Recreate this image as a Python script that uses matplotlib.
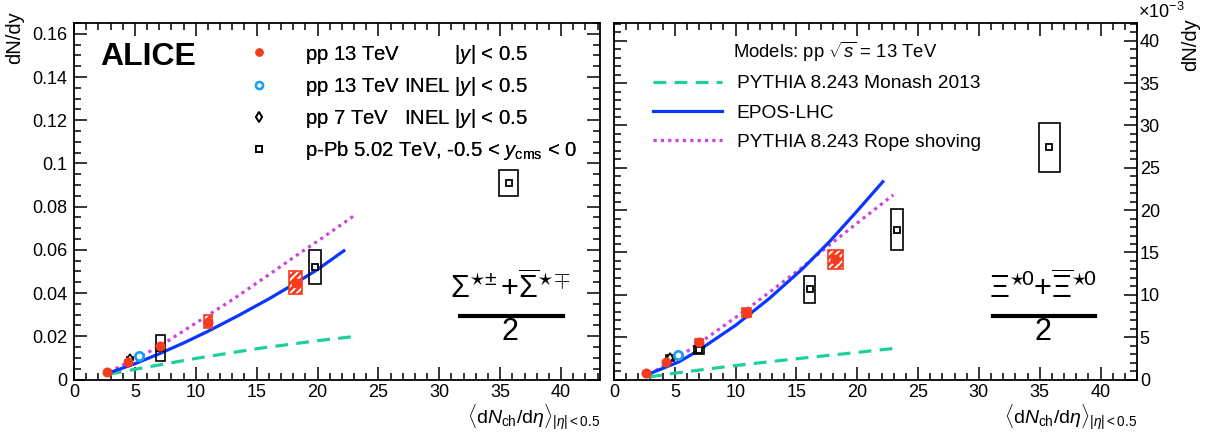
import numpy as np
import matplotlib
matplotlib.use("Agg")
import matplotlib.pyplot as plt
from matplotlib.lines import Line2D
from matplotlib.patches import Rectangle
from matplotlib.ticker import MultipleLocator, FuncFormatter

plt.rcParams['font.family'] = ['Liberation Sans', 'DejaVu Sans']
plt.rcParams['mathtext.fontset'] = 'custom'
plt.rcParams['mathtext.rm'] = 'Liberation Sans'
plt.rcParams['mathtext.it'] = 'Liberation Sans:italic'
plt.rcParams['mathtext.bf'] = 'Liberation Sans:bold'
plt.rcParams['hatch.linewidth'] = 2.0

# ---- Sigma*(1385) panel (left) ----
sig_pp13_x = [2.7, 4.4, 7.05, 11.0, 18.2]
sig_pp13_y = [0.0033, 0.0082, 0.0153, 0.0268, 0.0448]
sig_pp13_ex = [0.1, 0.2, 0.3, 0.35, 0.55]
sig_pp13_ey = [0.0003, 0.0008, 0.0013, 0.003, 0.0052]
sig_inel13_x = [5.3]
sig_inel13_y = [0.0108]
sig_pp7_x = [4.6]
sig_pp7_y = [0.0097]
sig_pp7_ex = [0.25]
sig_pp7_ey = [0.0009]
sig_ppb_x = [7.1, 19.8, 35.7]
sig_ppb_y = [0.0146, 0.052, 0.0908]
sig_ppb_ex = [0.35, 0.5, 0.8]
sig_ppb_ey = [0.0062, 0.008, 0.006]

sig_monash_x = [2.88, 5.07, 10.05, 15.06, 20.05, 23.2]
sig_monash_y = [0.0025, 0.0048, 0.0098, 0.0143, 0.0180, 0.0200]
sig_epos_x = [2.74, 5.0, 7.0, 9.0, 11.0, 13.5, 16.0, 18.2, 20.0, 22.27]
sig_epos_y = [0.0028, 0.0073, 0.0119, 0.0169, 0.0223, 0.0296, 0.0373, 0.0446, 0.0509, 0.0600]
sig_rope_x = [2.88, 4.93, 6.98, 10.05, 13.0, 15.75, 18.49, 20.05, 23.0]
sig_rope_y = [0.0035, 0.0092, 0.0152, 0.0263, 0.0369, 0.0475, 0.0583, 0.0642, 0.0758]

# ---- Xi*(1530) panel (right), values in units of 1e-3 ----
xi_pp13_x = [2.6, 4.3, 7.0, 10.9, 18.2]
xi_pp13_y = [0.78, 2.08, 4.4, 7.9, 14.2]
xi_pp13_ex = [0.1, 0.2, 0.3, 0.4, 0.6]
xi_pp13_ey = [0.1, 0.2, 0.35, 0.57, 1.1]
xi_inel13_x = [5.25]
xi_inel13_y = [2.95]
xi_pp7_x = [4.6]
xi_pp7_y = [2.55]
xi_pp7_ex = [0.3]
xi_pp7_ey = [0.35]
xi_ppb_x = [7.0, 16.1, 23.3, 35.8]
xi_ppb_y = [3.46, 10.67, 17.7, 27.4]
xi_ppb_ex = [0.4, 0.45, 0.5, 0.85]
xi_ppb_ey = [0.5, 1.6, 2.4, 2.9]

xi_monash_x = [2.9, 5, 10, 15, 20, 23.2]
xi_monash_y = [0.3, 0.75, 1.65, 2.45, 3.2, 3.7]
xi_epos_x = [2.6, 5.33, 6.98, 10.0, 12.77, 15.52, 17.73, 19.93, 22.19]
xi_epos_y = [0.5, 2.08, 3.46, 6.4, 9.57, 13.1, 16.3, 19.8, 23.5]
xi_rope_x = [2.9, 5.33, 6.98, 10.84, 15.52, 17.73, 19.93, 22.96]
xi_rope_y = [0.6, 2.67, 4.25, 8.19, 13.3, 15.9, 18.4, 21.8]

red = '#f53c1e'
lblue = '#1ea0f0'
green = '#1dcf9e'
blue = '#0a37ff'
magenta = '#cc44dd'
dash = (0, (4, 2.6))
dots = (0, (1, 1.3))


def boxes(ax, x, y, ex, ey, color, hatch=None):
    for xi, yi, dx, dy in zip(x, y, ex, ey):
        if hatch:
            ax.add_patch(Rectangle((xi - dx, yi - dy), 2 * dx, 2 * dy, facecolor='white',
                                   edgecolor=color, hatch=hatch, lw=1.2, zorder=3))
        else:
            ax.add_patch(Rectangle((xi - dx, yi - dy), 2 * dx, 2 * dy, facecolor='none',
                                   edgecolor=color, lw=1.2, zorder=3))


def draw_panel(ax, d):
    ax.plot(d['monash'][0], d['monash'][1], color=green, lw=2.3, ls=dash, zorder=2)
    ax.plot(d['rope'][0], d['rope'][1], color=magenta, lw=2.3, ls=dots, zorder=2)
    ax.plot(d['epos'][0], d['epos'][1], color=blue, lw=2.3, zorder=2, solid_capstyle='butt')
    boxes(ax, *d['pp13'], color=red, hatch='/////')
    boxes(ax, *d['pp7'], color='k')
    boxes(ax, *d['ppb'], color='k')
    ax.plot(d['ppb'][0], d['ppb'][1], 's', ms=5, mfc='white', mec='k', mew=1.3, ls='none', zorder=4)
    ax.plot(d['pp7'][0], d['pp7'][1], 'd', ms=5, mfc='white', mec='k', mew=1.2, ls='none', zorder=4)
    ax.plot(d['inel'][0], d['inel'][1], 'o', ms=6, mfc='white', mec=lblue, mew=2.0, ls='none', zorder=5)
    ax.plot(d['pp13'][0], d['pp13'][1], 'o', ms=6.2, color=red, mec=red, ls='none', zorder=5)


def style(ax):
    ax.xaxis.set_major_locator(MultipleLocator(5))
    ax.xaxis.set_minor_locator(MultipleLocator(1))
    ax.tick_params(which='both', direction='in', top=True, right=True, width=1.1, labelsize=13)
    ax.tick_params(which='major', length=9.5)
    ax.tick_params(which='minor', length=5)
    ax.xaxis.set_major_formatter(FuncFormatter(lambda v, p: '%g' % v))
    ax.yaxis.set_major_formatter(FuncFormatter(lambda v, p: '%g' % round(v, 6)))
    for s in ax.spines.values():
        s.set_linewidth(1.3)


fig = plt.figure(figsize=(12.12, 4.37), dpi=100)
ax1 = fig.add_axes([74 / 1212, 57.5 / 437, 526 / 1212, 356.5 / 437])
ax2 = fig.add_axes([614 / 1212, 57.5 / 437, 523 / 1212, 356.5 / 437])

draw_panel(ax1, {'monash': (sig_monash_x, sig_monash_y), 'rope': (sig_rope_x, sig_rope_y),
                 'epos': (sig_epos_x, sig_epos_y),
                 'pp13': (sig_pp13_x, sig_pp13_y, sig_pp13_ex, sig_pp13_ey),
                 'pp7': (sig_pp7_x, sig_pp7_y, sig_pp7_ex, sig_pp7_ey),
                 'ppb': (sig_ppb_x, sig_ppb_y, sig_ppb_ex, sig_ppb_ey),
                 'inel': (sig_inel13_x, sig_inel13_y)})
draw_panel(ax2, {'monash': (xi_monash_x, xi_monash_y), 'rope': (xi_rope_x, xi_rope_y),
                 'epos': (xi_epos_x, xi_epos_y),
                 'pp13': (xi_pp13_x, xi_pp13_y, xi_pp13_ex, xi_pp13_ey),
                 'pp7': (xi_pp7_x, xi_pp7_y, xi_pp7_ex, xi_pp7_ey),
                 'ppb': (xi_ppb_x, xi_ppb_y, xi_ppb_ex, xi_ppb_ey),
                 'inel': (xi_inel13_x, xi_inel13_y)})

ax1.set_xlim(0, 43.2)
ax1.set_ylim(0, 0.165)
ax1.yaxis.set_major_locator(MultipleLocator(0.02))
ax1.yaxis.set_minor_locator(MultipleLocator(0.005))
style(ax1)
ax1.tick_params(axis='y', pad=5)

ax2.set_xlim(0, 43)
ax2.set_ylim(0, 42.1)
ax2.yaxis.set_major_locator(MultipleLocator(5))
ax2.yaxis.set_minor_locator(MultipleLocator(1))
style(ax2)
ax2.tick_params(axis='y', labelleft=False, labelright=True, pad=2)

xlab = r'$\langle\mathrm{d}N_{\mathrm{ch}}/\mathrm{d}\eta\rangle_{|\eta|<0.5}$'
for ax in (ax1, ax2):
    ax.text(1.0, -0.064, xlab, transform=ax.transAxes, ha='right', va='top', fontsize=14)

fig.text(15 / 1212, 1 - 11 / 437, 'dN/dy', rotation=90, ha='center', va='top', fontsize=14.5)
fig.text(1191 / 1212, 1 - 18 / 437, 'dN/dy', rotation=90, ha='center', va='top', fontsize=14.5)
fig.text(1138 / 1212, 1 - 12 / 437, r'$\times$10$^{-3}$', ha='left', va='center', fontsize=13)

ax1.text(0.049, 0.905, 'ALICE', transform=ax1.transAxes, fontsize=23, fontweight='bold',
         ha='left', va='center')

# left legend: data
h1 = [Line2D([], [], marker='o', ls='none', color=red, ms=5),
      Line2D([], [], marker='o', ls='none', mfc='white', mec=lblue, mew=1.8, ms=5),
      Line2D([], [], marker='d', ls='none', mfc='white', mec='k', mew=1.3, ms=5.5),
      Line2D([], [], marker='s', ls='none', mfc='white', mec='k', mew=1.3, ms=4.5)]
l1 = ['pp 13 TeV          $|y|$ < 0.5',
      'pp 13 TeV INEL $|y|$ < 0.5',
      'pp 7 TeV   INEL $|y|$ < 0.5',
      'p-Pb 5.02 TeV, -0.5 < $y_{\\mathrm{cms}}$ < 0']
leg1 = ax1.legend(h1, l1, loc='upper left', bbox_to_anchor=((239 - 74) / 526, (379.5 - 42.5) / 356.5),
                  frameon=False, fontsize=14.6, handlelength=2.0, handletextpad=1.25,
                  labelspacing=0.45, borderpad=0, borderaxespad=0)
ax1.add_artist(leg1)

# right legend: models
ax2.text((733 - 614) / 523, (379.5 - 52) / 356.5, r'Models: pp $\sqrt{s}$ = 13 TeV',
         transform=ax2.transAxes, ha='left', va='center', fontsize=13.3)
h2 = [Line2D([], [], color=green, lw=2.3, ls=dash),
      Line2D([], [], color=blue, lw=2.3),
      Line2D([], [], color=magenta, lw=2.3, ls=dots)]
l2 = ['PYTHIA 8.243 Monash 2013', 'EPOS-LHC', 'PYTHIA 8.243 Rope shoving']
ax2.legend(h2, l2, loc='upper left', bbox_to_anchor=((653 - 614) / 523, (379.5 - 75) / 356.5),
           frameon=False, fontsize=13.75, handlelength=3.6, handletextpad=0.78,
           labelspacing=0.63, borderpad=0, borderaxespad=0)

# fraction labels
ax1.text(0.829, 0.254, r'$\Sigma^{\star\!\pm}$+$\overline{\Sigma}^{\star\!\mp}$', transform=ax1.transAxes,
         ha='center', va='center', fontsize=22)
ax1.plot([0.734, 0.93], [0.178, 0.178], transform=ax1.transAxes, color='k', lw=3, clip_on=False)
ax1.text(0.829, 0.132, '2', transform=ax1.transAxes, ha='center', va='center', fontsize=22)

ax2.text(0.82, 0.254, r'$\Xi^{\star\!0}$+$\overline{\Xi}^{\star\!0}$', transform=ax2.transAxes,
         ha='center', va='center', fontsize=22)
ax2.plot([0.725, 0.92], [0.178, 0.178], transform=ax2.transAxes, color='k', lw=3, clip_on=False)
ax2.text(0.82, 0.132, '2', transform=ax2.transAxes, ha='center', va='center', fontsize=22)

fig.savefig('out.png', dpi=100)
